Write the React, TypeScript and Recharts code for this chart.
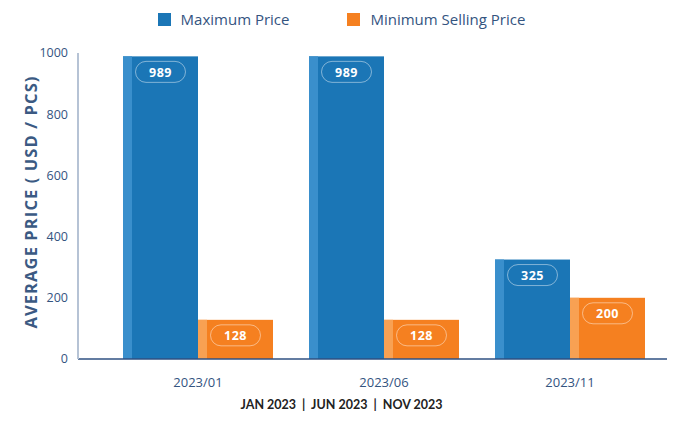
import React from "react";
import { BarChart, Bar, XAxis, YAxis, Legend, LabelList } from "recharts";

const months = ["2023/01", "2023/06", "2023/11"];
const maxPrice = [989, 989, 325];
const minSellingPrice = [128, 128, 200];
const yTicks = [0, 200, 400, 600, 800, 1000];

const data = months.map((m, i) => ({ month: m, max: maxPrice[i], min: minSellingPrice[i] }));

const BLUE = "#1b76b6";
const BLUE_LIGHT = "#3a8fcc";
const ORANGE = "#f58020";
const ORANGE_LIGHT = "#f8a153";
const TEXT = "#34547f";

const stripedBar = (main: string, light: string) => (props: any) => {
  const { x, y, width, height } = props;
  if (!height || height <= 0) return null;
  return (
    <g>
      <rect x={x} y={y} width={width} height={height} fill={main} />
      <rect x={x} y={y} width={9} height={height} fill={light} />
    </g>
  );
};

const pill = (props: any) => {
  const { x, y, width, value } = props;
  const cx = x + width / 2;
  return (
    <g>
      <rect x={cx - 25} y={y + 5} width={50} height={21} rx={10.5}
        fill="none" stroke="rgba(255,255,255,0.45)" strokeWidth={1} />
      <text x={cx} y={y + 16} textAnchor="middle" dominantBaseline="central"
        fill="#fff" fontSize={12.5} fontWeight={700} fontFamily="'Open Sans', sans-serif"
        letterSpacing={0.5}>
        {value}
      </text>
    </g>
  );
};

const legendItems = [
  { label: "Maximum Price", color: BLUE },
  { label: "Minimum Selling Price", color: ORANGE },
];

const LegendContent = () => (
  <div style={{ display: "flex", justifyContent: "center", gap: 58 }}>
    {legendItems.map((it) => (
      <div key={it.label} style={{ display: "flex", alignItems: "center", gap: 10 }}>
        <span style={{ width: 13, height: 13, background: it.color, display: "inline-block" }} />
        <span style={{ fontSize: 15, color: TEXT, fontFamily: "'Open Sans', sans-serif" }}>{it.label}</span>
      </div>
    ))}
  </div>
);

export default function App() {
  return (
    <div style={{ position: "absolute", left: 0, top: 0, width: 683, height: 421, background: "#fff" }}>
      <BarChart width={683} height={421} data={data}
        margin={{ top: 33, right: 16, bottom: 32, left: 0 }}
        barCategoryGap={18} barGap={0}>
        <Legend verticalAlign="top" content={<LegendContent />}
          wrapperStyle={{ top: 9, left: 0, width: 683 }} />
        <XAxis dataKey="month" padding={{ left: 27, right: 4 }}
          axisLine={{ stroke: "#2f5082", strokeWidth: 1.5 }} tickLine={false}
          tick={{ fill: TEXT, fontSize: 13, fontFamily: "'Open Sans', sans-serif" }} tickMargin={13} />
        <YAxis width={78} domain={[0, 1000]} ticks={yTicks} interval={0}
          axisLine={{ stroke: "#b6c3d5", strokeWidth: 2 }} tickLine={false}
          tick={{ fill: TEXT, fontSize: 12.5, fontFamily: "'Open Sans', sans-serif" }} tickMargin={4}
          label={{ value: "AVERAGE PRICE ( USD / PCS)", angle: -90, position: "center", dx: -8, dy: -4,
            style: { fill: "#3b5a83", fontSize: 16.5, fontWeight: 700, letterSpacing: 1.1, fontFamily: "'Open Sans', sans-serif" } }} />
        <Bar dataKey="max" name="Maximum Price" fill={BLUE} shape={stripedBar(BLUE, BLUE_LIGHT)} isAnimationActive={false}>
          <LabelList dataKey="max" content={pill} />
        </Bar>
        <Bar dataKey="min" name="Minimum Selling Price" fill={ORANGE} shape={stripedBar(ORANGE, ORANGE_LIGHT)} isAnimationActive={false}>
          <LabelList dataKey="min" content={pill} />
        </Bar>
      </BarChart>
      <div style={{ position: "absolute", left: 0, top: 397, width: 683, textAlign: "center",
        fontSize: 12.5, fontWeight: 700, color: "#222", fontFamily: "Lato, sans-serif" }}>
        JAN 2023&nbsp;&nbsp;|&nbsp;&nbsp;JUN 2023&nbsp;&nbsp;|&nbsp;&nbsp;NOV 2023
      </div>
    </div>
  );
}
